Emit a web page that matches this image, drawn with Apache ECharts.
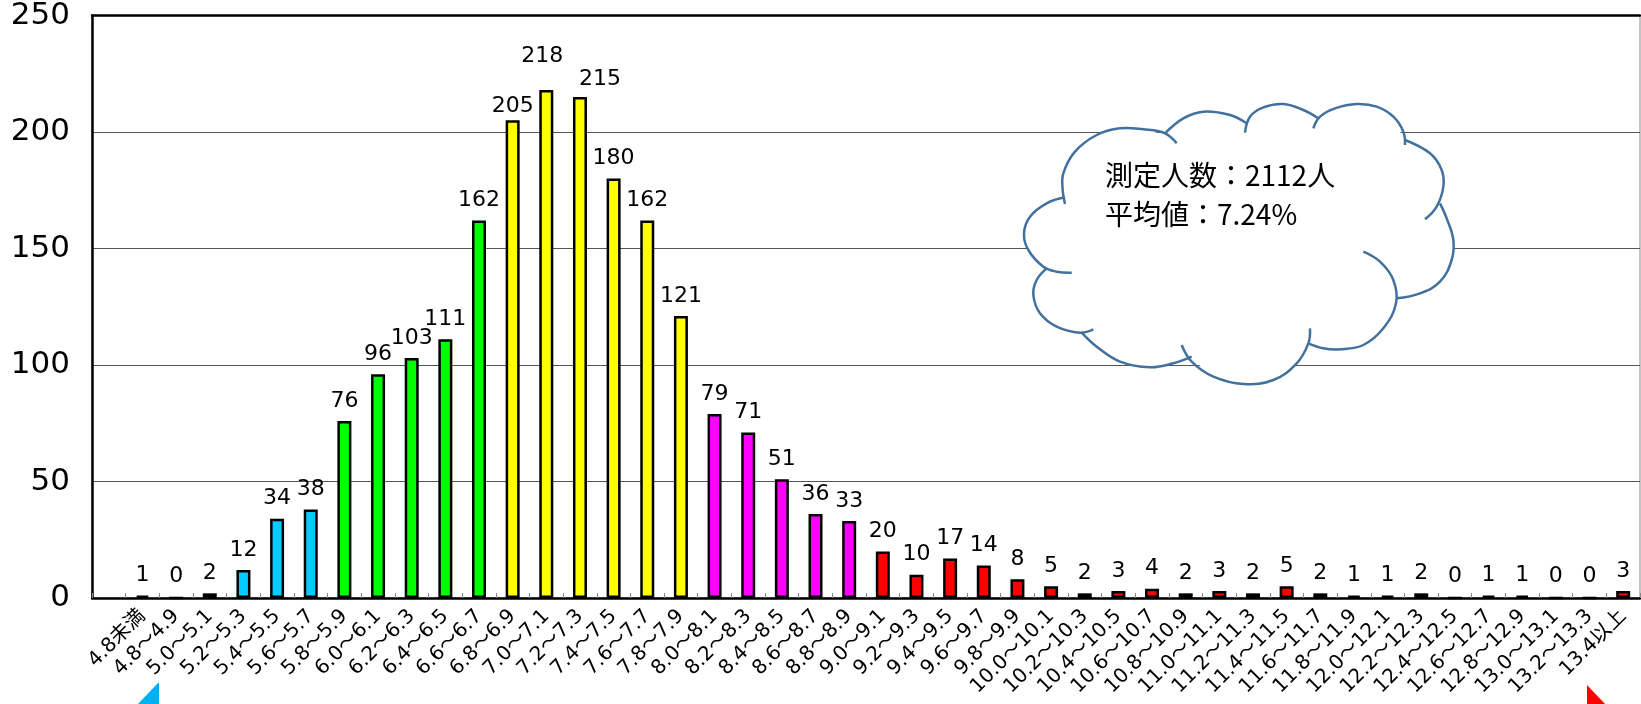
<!DOCTYPE html>
<html>
<head>
<meta charset="utf-8">
<script src="https://cdn.jsdelivr.net/npm/echarts@6/dist/echarts.min.js"></script>
<style>
html,body{margin:0;padding:0;background:#fff;}
#chart{width:1641px;height:704px;}
</style>
</head>
<body>
<div id="chart"></div>
<script>
// ---- data ----
const categories = ['4.8未満','4.8～4.9','5.0～5.1','5.2～5.3','5.4～5.5','5.6～5.7','5.8～5.9','6.0～6.1','6.2～6.3','6.4～6.5','6.6～6.7','6.8～6.9','7.0～7.1','7.2～7.3','7.4～7.5','7.6～7.7','7.8～7.9','8.0～8.1','8.2～8.3','8.4～8.5','8.6～8.7','8.8～8.9','9.0～9.1','9.2～9.3','9.4～9.5','9.6～9.7','9.8～9.9','10.0～10.1','10.2～10.3','10.4～10.5','10.6～10.7','10.8～10.9','11.0～11.1','11.2～11.3','11.4～11.5','11.6～11.7','11.8～11.9','12.0～12.1','12.2～12.3','12.4～12.5','12.6～12.7','12.8～12.9','13.0～13.1','13.2～13.3','13.4以上'];
const counts = [1,0,2,12,34,38,76,96,103,111,162,205,218,215,180,162,121,79,71,51,36,33,20,10,17,14,8,5,2,3,4,2,3,2,5,2,1,1,2,0,1,1,0,0,3];
const yTicks = [0,50,100,150,200,250];
const noteLines = ['測定人数：2112人','平均値：7.24%'];

// ---- styles ----
function colorOf(i){
  if (i <= 5) return '#00CCFF';
  if (i <= 10) return '#00FF00';
  if (i <= 16) return '#FFFF00';
  if (i <= 21) return '#FF00FF';
  return '#FF0000';
}
// manual label nudges (as placed in the original)
const labelNudge = {11:[0,6], 12:[-4,-14], 13:[20,2]};
const axisCats = [''].concat(categories);
const seriesData = [null].concat(counts.map((v,i)=>{
  const d = {value:v, itemStyle:{color:colorOf(i)}};
  if (labelNudge[i]) d.label = {offset:labelNudge[i]};
  return d;
}));

// ---- cloud geometry (decoration) ----
const P = (x,y)=>[1010 + x/3, 90 + y/3];
const strokeDefs = [
  [[500,160],[465,130],[400,118],[330,115],[260,135],[195,185],[160,250],[158,300],[165,342]],
  [[165,322],[110,340],[60,380],[42,430],[55,480],[100,530],[140,545],[185,548]],
  [[110,535],[80,570],[70,615],[90,670],[140,710],[210,728],[250,718]],
  [[215,728],[260,770],[330,815],[420,832],[490,820],[545,800]],
  [[515,765],[545,815],[610,860],[700,882],[790,870],[860,820],[895,760],[900,715]],
  [[895,760],[940,775],[990,778],[1060,765],[1120,715],[1158,640],[1150,570],[1110,515],[1060,485]],
  [[1160,625],[1230,610],[1290,575],[1325,510],[1330,450],[1310,385],[1290,340]],
  [[1245,388],[1280,350],[1300,290],[1295,240],[1260,190],[1185,150]],
  [[1185,165],[1180,125],[1150,80],[1100,50],[1040,42],[975,55],[930,80],[910,115]],
  [[925,85],[880,60],[820,42],[760,52],[720,80],[705,128]],
  [[710,100],[660,75],[580,65],[520,85],[465,130]]
];
const fillDef = [[465,130],[400,118],[330,115],[260,135],[195,185],[160,250],[160,322],
  [110,340],[60,380],[42,430],[55,480],[108,535],
  [80,570],[70,615],[90,670],[140,710],[215,728],
  [260,770],[330,815],[420,832],[490,820],[540,805],
  [610,860],[700,882],[790,870],[860,820],[895,760],
  [940,775],[990,778],[1060,765],[1120,715],[1160,625],
  [1230,610],[1290,575],[1325,510],[1330,450],[1310,385],[1290,340],
  [1300,290],[1295,240],[1260,190],[1185,150],
  [1150,80],[1100,50],[1040,42],[975,55],[925,85],
  [880,60],[820,42],[760,52],[710,100],
  [660,75],[580,65],[520,85]];

const graphics = [];
graphics.push({type:'polygon', z:100, shape:{points:fillDef.map(p=>P(p[0],p[1])), smooth:0.3}, style:{fill:'#fff', stroke:null}});
strokeDefs.forEach(s=>{
  graphics.push({type:'polyline', z:101, shape:{points:s.map(p=>P(p[0],p[1])), smooth:0.4}, style:{stroke:'#41719C', lineWidth:2.5, fill:null}});
});
graphics.push({type:'text', z:102, style:{text:noteLines[0], x:1105, y:175, verticalAlign:'middle', align:'left', font:'28px "Noto Sans CJK JP"', fill:'#000'}});
graphics.push({type:'text', z:102, style:{text:noteLines[1], x:1105, y:214, verticalAlign:'middle', align:'left', font:'28px "Noto Sans CJK JP"', fill:'#000'}});
// arrow tips at bottom corners
graphics.push({type:'polygon', z:50, shape:{points:[[137,705],[159,682],[159,705]]}, style:{fill:'#00B0F0'}});
graphics.push({type:'polygon', z:50, shape:{points:[[1587,685],[1587,705],[1606,705]]}, style:{fill:'#FF0000'}});

const chart = echarts.init(document.getElementById('chart'), null, {renderer:'canvas'});
chart.setOption({
  animation:false,
  backgroundColor:'#fff',
  grid:{left:92, right:1, top:15, bottom:106, containLabel:false, show:true, borderColor:'#888', borderWidth:1},
  xAxis:[{
    type:'category', data:axisCats, boundaryGap:true,
    axisLine:{show:true, lineStyle:{color:'#000', width:2.5}},
    axisTick:{show:true, inside:true, length:5, interval:0, lineStyle:{color:'#888', width:1}},
    axisLabel:{interval:0, rotate:45, margin:15, fontSize:20, fontFamily:'DejaVu Sans, "Noto Sans CJK JP"', color:'#000'},
    splitLine:{show:false}
  },{
    type:'category', data:axisCats, position:'top',
    axisLine:{show:true, lineStyle:{color:'#000', width:2.5}},
    axisTick:{show:false}, axisLabel:{show:false}, splitLine:{show:false}
  }],
  yAxis:{
    type:'value', min:yTicks[0], max:yTicks[yTicks.length-1], interval:yTicks[1]-yTicks[0],
    axisLine:{show:true, lineStyle:{color:'#000', width:2.5}},
    axisTick:{show:false},
    axisLabel:{margin:22, fontSize:31, fontFamily:'DejaVu Sans', color:'#000'},
    splitLine:{show:true, lineStyle:{color:'#555', width:1}}
  },
  series:[{
    type:'bar', data:seriesData, barWidth:14,
    itemStyle:{borderColor:'#000', borderWidth:2.5},
    label:{show:true, position:'top', distance:9, fontSize:22, fontFamily:'DejaVu Sans', color:'#000'}
  }],
  graphic:graphics
});
</script>
</body>
</html>
